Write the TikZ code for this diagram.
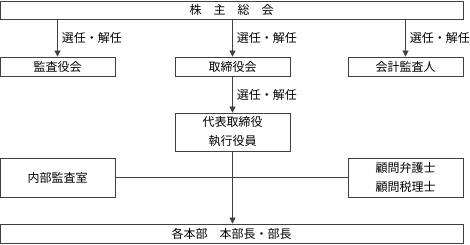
\documentclass[tikz,border=0pt]{standalone}
\usepackage{fontspec}
\setmainfont{Noto Sans CJK JP}
\usetikzlibrary{arrows.meta}
\begin{document}
\begin{tikzpicture}[x=1pt,y=-1pt,
  box/.style={draw=black!75,line width=0.8pt,inner sep=0pt,font=\fontsize{12}{19}\selectfont,align=center},
  conn/.style={draw=black!75,line width=0.8pt},
  arr/.style={conn,-{Triangle[length=6pt,width=6pt]}},
  lbl/.style={font=\fontsize{12}{14}\selectfont,anchor=west,inner sep=0pt}]
\useasboundingbox (0,0) rectangle (470,245);
\node[box,minimum width=463pt,minimum height=18pt] (gm) at (231.5,10) {株　主　総　会};
\node[box,minimum width=115pt,minimum height=19pt] (kansa) at (57.5,66.5) {監査役会};
\node[box,minimum width=115pt,minimum height=19pt] (tori) at (232.5,66.5) {取締役会};
\node[box,minimum width=115pt,minimum height=19pt] (kaikei) at (405.5,66.5) {会計監査人};
\node[box,minimum width=115pt,minimum height=38pt] (daihyo) at (232.5,132) {代表取締役\\執行役員};
\node[box,minimum width=115pt,minimum height=39pt] (naibu) at (57.5,177.5) {内部監査室};
\node[box,minimum width=115pt,minimum height=39pt] (komon) at (405.5,177.5) {顧問弁護士\\顧問税理士};
\node[box,minimum width=463pt,minimum height=19pt] (bu) at (231.5,233.5) {各本部　本部長・部長};
\draw[arr] (gm.south -| kansa.north) -- (kansa.north) node[lbl,pos=0.5,xshift=4pt] {選任・解任};
\draw[arr] (gm.south -| tori.north) -- (tori.north) node[lbl,pos=0.5,xshift=4pt] {選任・解任};
\draw[arr] (gm.south -| kaikei.north) -- (kaikei.north) node[lbl,pos=0.5,xshift=4pt] {選任・解任};
\draw[arr] (tori.south) -- (daihyo.north) node[lbl,pos=0.5,xshift=4pt] {選任・解任};
\draw[arr] (daihyo.south) -- (bu.north -| daihyo.south);
\draw[conn] (naibu.east) -- (komon.west);
\end{tikzpicture}
\end{document}
